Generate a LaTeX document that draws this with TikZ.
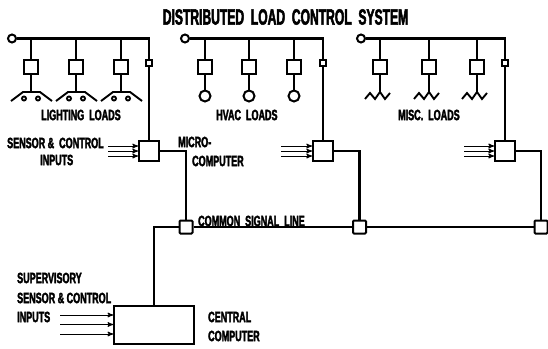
\documentclass[tikz,border=0pt]{standalone}
\usepackage{fontspec}
\usetikzlibrary{arrows}
\newfontfamily\plateheavy[FakeStretch=0.6,FakeBold=2.2]{Liberation Sans Bold}
\newfontfamily\titleheavy[FakeStretch=0.55,FakeBold=2.2]{Liberation Sans Bold}
\newcommand{\LampLoad}[1]{
  \draw[wire] ([shift={(-20,9)}]#1) -- ([shift={(-8,0)}]#1) -- ([shift={(9,0)}]#1) -- ([shift={(21,9)}]#1);
  \draw[wire] ([shift={(-7,6.5)}]#1) circle (2);
  \draw[wire] ([shift={(7,6.5)}]#1) circle (2);
}
\newcommand{\ZigZag}[1]{
  \draw[wire] ([shift={(-15,7)}]#1) -- ([shift={(-10,1)}]#1) -- ([shift={(-5,7)}]#1) -- (#1)
    -- ([shift={(5,7)}]#1) -- ([shift={(10,1)}]#1);
}

\begin{document}
\begin{tikzpicture}[x=1pt,y=-1pt,
    wire/.style={line width=1.9pt},
    bus/.style={line width=2.5pt},
    relay/.style={draw, fill=white, line width=2pt, inner sep=0pt, minimum size=14pt},
    tap/.style={draw, fill=white, line width=2pt, inner sep=0pt, minimum size=6pt},
    micro/.style={draw, fill=white, line width=2pt, inner sep=0pt, minimum size=20pt},
    joint/.style={draw, fill=white, line width=2pt, inner sep=0pt, minimum size=13pt, rounded corners=1pt},
    source/.style={draw, fill=white, circle, line width=2pt, inner sep=0pt, minimum size=8pt},
    hvac/.style={draw, fill=white, circle, line width=2pt, inner sep=0pt, minimum size=11pt},
    sense/.style={->,>=stealth',line width=1pt},
    plate/.style={font=\plateheavy\fontsize{15}{15}\selectfont, inner sep=0pt}]
  \useasboundingbox (0,0) rectangle (548,348);

  \node[font=\titleheavy\fontsize{22}{22}\selectfont, inner sep=0pt] (T) at (285.5,17) {DISTRIBUTED\ \ LOAD\ \ CONTROL\ \ SYSTEM};

  % lighting
  \node[source] (A0) at (12,38.5) {};
  \coordinate (A1) at (31,38.5);
  \coordinate (A2) at (76,38.5);
  \coordinate (A3) at (121,38.5);
  \coordinate (A4) at (149,38.5);
  \node[relay] (RA1) at (31,66.5) {};
  \node[relay] (RA2) at (76,66.5) {};
  \node[relay] (RA3) at (121,66.5) {};
  \coordinate (LA1) at (31,92);
  \coordinate (LA2) at (76,92);
  \coordinate (LA3) at (121,92);
  \node[tap] (TA) at (149,63) {};
  \node[micro] (MA) at (149,151) {};

  % hvac
  \node[source] (B0) at (185,38.5) {};
  \coordinate (B1) at (205,38.5);
  \coordinate (B2) at (249,38.5);
  \coordinate (B3) at (294,38.5);
  \coordinate (B4) at (323,38.5);
  \node[relay] (RB1) at (205,66.5) {};
  \node[relay] (RB2) at (249,66.5) {};
  \node[relay] (RB3) at (294,66.5) {};
  \node[hvac] (HB1) at (205,96) {};
  \node[hvac] (HB2) at (249,96) {};
  \node[hvac] (HB3) at (294,96) {};
  \node[tap] (TB) at (323,63) {};
  \node[micro] (MB) at (323,151) {};

  % misc
  \node[source] (C0) at (361,38.5) {};
  \coordinate (C1) at (380,38.5);
  \coordinate (C2) at (429,38.5);
  \coordinate (C3) at (477,38.5);
  \coordinate (C4) at (505,38.5);
  \node[relay] (RC1) at (380,66.5) {};
  \node[relay] (RC2) at (429,66.5) {};
  \node[relay] (RC3) at (477,66.5) {};
  \coordinate (LC1) at (380,92);
  \coordinate (LC2) at (429,92);
  \coordinate (LC3) at (477,92);
  \node[tap] (TC) at (505,63) {};
  \node[micro] (MC) at (505,151) {};

  % signal line
  \node[joint] (JA) at (186,227) {};
  \node[joint] (JB) at (359.5,227) {};
  \node[joint] (JC) at (541,227) {};
  \node[draw, fill=white, line width=1.6pt, inner sep=0pt, minimum width=80pt, minimum height=38pt] (CC) at (154,325) {};
  \coordinate (CT) at (154,306);

  \draw[bus] (A0) -- (A4) -- (TA);
  \draw[bus] (TA) -- (MA);
  \draw[bus] (B0) -- (B4) -- (TB);
  \draw[bus] (TB) -- (MB);
  \draw[bus] (C0) -- (C4) -- (TC);
  \draw[bus] (TC) -- (MC);

  \draw[bus] (A1) -- (RA1);
  \draw[bus] (A2) -- (RA2);
  \draw[bus] (A3) -- (RA3);
  \draw[bus] (RA1) -- (LA1);
  \draw[bus] (RA2) -- (LA2);
  \draw[bus] (RA3) -- (LA3);
  \draw[bus] (B1) -- (RB1);
  \draw[bus] (B2) -- (RB2);
  \draw[bus] (B3) -- (RB3);
  \draw[bus] (RB1) -- (HB1);
  \draw[bus] (RB2) -- (HB2);
  \draw[bus] (RB3) -- (HB3);
  \draw[bus] (C1) -- (RC1);
  \draw[bus] (C2) -- (RC2);
  \draw[bus] (C3) -- (RC3);
  \draw[bus] (RC1) -- (LC1);
  \draw[bus] (RC2) -- (LC2);
  \draw[bus] (RC3) -- (LC3);

  \LampLoad{LA1}
  \LampLoad{LA2}
  \LampLoad{LA3}
  \ZigZag{LC1}
  \ZigZag{LC2}
  \ZigZag{LC3}

  \draw[bus] (MA.east) -| (JA);
  \draw[bus] (MB.east) -| (JB);
  \draw[bus] (MC.east) -| (JC);
  \draw[bus] (CT) |- (JA);
  \draw[wire] (JA) -- (JB);
  \draw[wire] (JB) -- (JC);

  \coordinate (SA1) at (108,146);
  \coordinate (SA2) at (108,151);
  \coordinate (SA3) at (108,156);
  \coordinate (SB1) at (281,146);
  \coordinate (SB2) at (281,151);
  \coordinate (SB3) at (281,156);
  \coordinate (SC1) at (464,146);
  \coordinate (SC2) at (464,151);
  \coordinate (SC3) at (464,156);
  \coordinate (SD1) at (60,315);
  \coordinate (SD2) at (60,324.5);
  \coordinate (SD3) at (60,334);
  \draw[sense] (SA1) -- (SA1 -| MA.west);
  \draw[sense] (SA2) -- (SA2 -| MA.west);
  \draw[sense] (SA3) -- (SA3 -| MA.west);
  \draw[sense] (SB1) -- (SB1 -| MB.west);
  \draw[sense] (SB2) -- (SB2 -| MB.west);
  \draw[sense] (SB3) -- (SB3 -| MB.west);
  \draw[sense] (SC1) -- (SC1 -| MC.west);
  \draw[sense] (SC2) -- (SC2 -| MC.west);
  \draw[sense] (SC3) -- (SC3 -| MC.west);
  \draw[sense] (SD1) -- (SD1 -| CC.west);
  \draw[sense] (SD2) -- (SD2 -| CC.west);
  \draw[sense] (SD3) -- (SD3 -| CC.west);

  \node[plate, anchor=west] (LL) at (41,115) {LIGHTING\ \ LOADS};
  \node[plate, anchor=west] (HL) at (216,115) {HVAC\ \ LOADS};
  \node[plate, anchor=west] (ML) at (398,115) {MISC.\ \ LOADS};
  \node[plate, anchor=west] (S1) at (7,143) {SENSOR\ \&\ \ CONTROL};
  \node[plate, anchor=west] (S2) at (40,160) {INPUTS};
  \node[plate, anchor=west] (M1) at (178,142) {MICRO-};
  \node[plate, anchor=west] (M2) at (192,161) {COMPUTER};
  \node[plate, anchor=west] (CS) at (198,221) {COMMON\ \ SIGNAL\ \ LINE};
  \node[plate, anchor=west] (V1) at (17,278) {SUPERVISORY};
  \node[plate, anchor=west] (V2) at (17,298) {SENSOR\ \&\ CONTROL};
  \node[plate, anchor=west] (V3) at (17,317) {INPUTS};
  \node[plate, anchor=west] (C1L) at (208,317) {CENTRAL};
  \node[plate, anchor=west] (C2L) at (208,336) {COMPUTER};
\end{tikzpicture}
\end{document}
